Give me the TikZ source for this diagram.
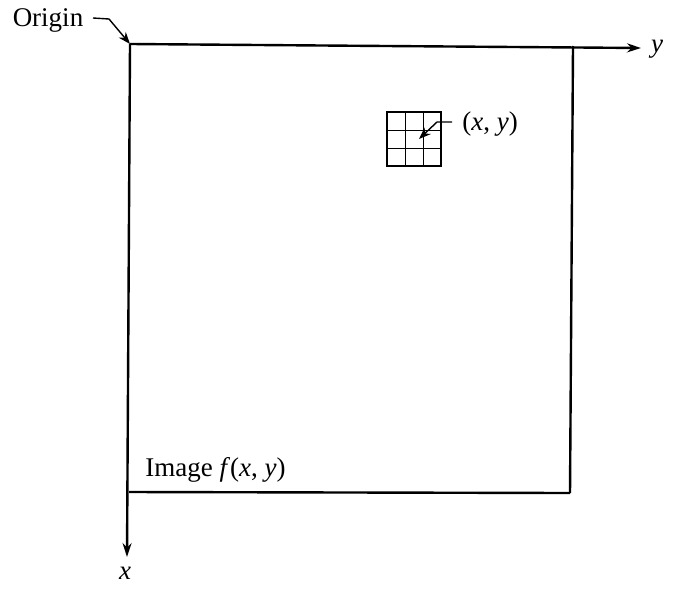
\documentclass[tikz,border=0pt]{standalone}
\usepackage{fontspec}
\setmainfont{Liberation Serif}
\usetikzlibrary{arrows.meta}
\begin{document}
\begin{tikzpicture}[x=0.5pt,y=-0.5pt,
  lbl/.style={font=\fontsize{13.5}{15}\selectfont, inner sep=0pt},
  axis/.style={line width=1.2pt,-{Stealth[length=7pt,width=4.5pt]}},
  edge/.style={line width=1.2pt},
  lead/.style={line width=0.7pt,-{Stealth[length=6pt,width=4.5pt]}},
  thin/.style={line width=0.5pt}]
\useasboundingbox (0,0) rectangle (678,599);
% corners
\coordinate (tl) at (130,44);
\coordinate (tr) at (573,46);
\coordinate (bl) at (129,492);
\coordinate (br) at (570,493);
\coordinate (xend) at (127,557);
\coordinate (yend) at (641,48);
% axes and image edges
\draw[axis] (tl) -- (xend);
\draw[axis] (tl) -- (yend);
\draw[edge] (tr) -- (br);
\draw[edge] (bl) -- (br);
\node[lbl] (xl) at (125,573) {\textit{x}};
\node[lbl] (yl) at (657,49) {\textit{y}};
% Origin
\node[lbl] (orig) at (48,20) {Origin};
\coordinate (o1) at (93,18);
\coordinate (o2) at (109,19);
\draw[lead] (o1) -- (o2) -- (tl);
% small grid
\coordinate (g0) at (387,112);
\coordinate (g1) at (441,166);
\foreach \k in {1,2} {
  \draw[thin] (387+18*\k,112) -- (387+18*\k,166);
  \draw[thin] (387,112+18*\k) -- (441,112+18*\k);
}
\draw[line width=0.9pt] (g0) rectangle (g1);
\node[lbl,anchor=west] (pt) at (462,124) {(\textit{x}, \textit{y})};
\coordinate (p1) at (452,122);
\coordinate (p2) at (437,122);
\coordinate (ptip) at (419,139);
\draw[lead] (p1) -- (p2) -- (ptip);
% image label
\node[lbl,anchor=west] (img) at (145,470) {Image \textit{f}(\textit{x}, \textit{y})};
\end{tikzpicture}
\end{document}
